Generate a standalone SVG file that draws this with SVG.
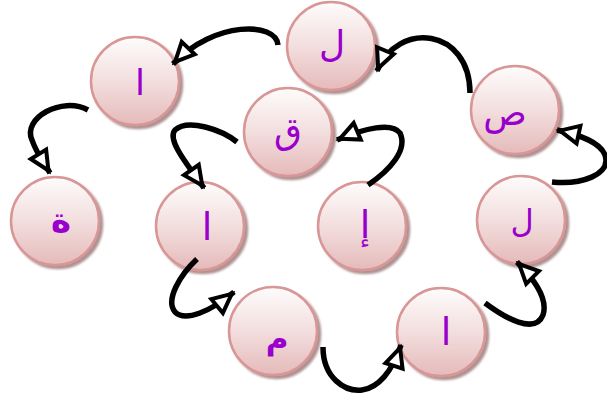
<svg xmlns="http://www.w3.org/2000/svg" width="607" height="394" viewBox="0 0 607 394">
<defs>
<linearGradient id="g" x1="0" y1="0" x2="0" y2="1">
<stop offset="0" stop-color="#fefcfc"/>
<stop offset="0.5" stop-color="#f3dede"/>
<stop offset="1" stop-color="#e5baba"/>
</linearGradient>
<filter id="sh" x="-20%" y="-20%" width="150%" height="150%">
<feDropShadow dx="3" dy="3" stdDeviation="1.2" flood-color="#7a4a4a" flood-opacity="0.6"/>
</filter>
<marker id="ah" markerUnits="userSpaceOnUse" viewBox="-30 -16 34 32" markerWidth="34" markerHeight="32" refX="0" refY="0" orient="auto" overflow="visible">
<path d="M-3,0 L-22,-9 L-22,9 Z" fill="#fff" stroke="#000" stroke-width="4" stroke-linejoin="miter"/>
</marker>
</defs>
<style>
.c{fill:url(#g);stroke:#d89696;stroke-width:2.5;filter:url(#sh)}
.t{font-family:"DejaVu Sans",sans-serif;fill:#9900cc;text-anchor:middle}
.a{fill:none;stroke:#000;stroke-width:5.5;marker-end:url(#ah)}
</style>
<rect width="607" height="394" fill="#fff"/>
<g id="n1"><circle class="c" cx="135" cy="81" r="44"/><text class="t" x="140" y="95" font-size="36">ا</text></g>
<g id="n2"><circle class="c" cx="331" cy="46" r="44"/><text class="t" x="332" y="56" font-size="36">ل</text></g>
<g id="n3"><circle class="c" cx="515" cy="110" r="44"/><text class="t" x="505" y="125" font-size="36">ص</text></g>
<g id="n4"><circle class="c" cx="288" cy="132" r="44"/><text class="t" x="288" y="143" font-size="36">ق</text></g>
<g id="n5"><circle class="c" cx="55" cy="221" r="44"/><text class="t" x="61" y="232" font-size="34" font-weight="bold">ة</text></g>
<g id="n6"><circle class="c" cx="200" cy="226" r="44"/><text class="t" x="207" y="240" font-size="38">ا</text></g>
<g id="n7"><circle class="c" cx="362" cy="226" r="44"/><text class="t" x="365" y="238" font-size="38">إ</text></g>
<g id="n8"><circle class="c" cx="521" cy="220" r="44"/><text class="t" x="522" y="232" font-size="32">ل</text></g>
<g id="n9"><circle class="c" cx="441" cy="332" r="44"/><text class="t" x="446" y="345" font-size="38">ا</text></g>
<g id="n10"><circle class="c" cx="273" cy="331" r="44"/><text class="t" x="277" y="349" font-size="31" font-weight="bold">م</text></g>
<g id="connectors">
<path class="a" d="M470,93 C470,28 398,20 377,71"/>
<path class="a" d="M278,45 C276,22 215,20 173,64"/>
<path class="a" d="M88,110 C62,96 22,118 32,140 C36,152 42,160 50,173"/>
<path class="a" d="M237,142 C222,130 188,118 175,130 C166,140 190,168 204,188"/>
<path class="a" d="M368,185 C390,170 408,150 400,133 C392,122 365,128 337,140"/>
<path class="a" d="M552,182 C580,185 612,175 605,155 C600,142 580,135 557,130"/>
<path class="a" d="M485,303 C505,318 535,335 543,315 C548,300 535,280 517,262"/>
<path class="a" d="M323,347 C323,378 345,392 362,390 C378,388 392,372 401,345"/>
<path class="a" d="M197,259 C180,275 165,300 175,312 C185,322 210,312 234,292"/>
</g>
</svg>
